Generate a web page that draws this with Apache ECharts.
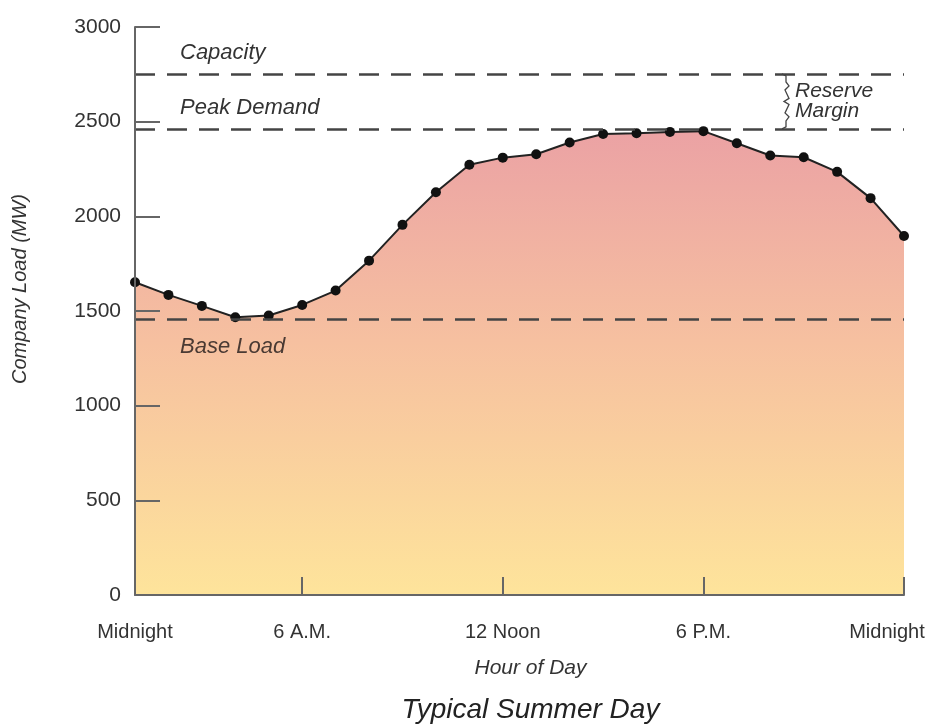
<!DOCTYPE html>
<html>
<head>
<meta charset="utf-8">
<script src="https://cdn.jsdelivr.net/npm/echarts@6/dist/echarts.min.js"></script>
<style>html,body{margin:0;padding:0;background:#fff}#main{width:938px;height:725px}</style>
</head>
<body>
<div id="main"></div>
<script>
// Hours of day (1..24) for hourly points
var hours = [1,2,3,4,5,6,7,8,9,10,11,12,13,14,15,16,17,18,19,20,21,22,23,24];
// Company load (MW)
var loadMW = [1652,1585,1527,1467,1476,1532,1608,1766,1955,2127,2272,2310,2328,2390,2435,2439,2446,2450,2386,2321,2312,2235,2096,1896];
// Tick label positions and text
var tickHours = [1,6,12,18,24];
var tickLabels = ['Midnight','6 A.M.','12 Noon','6 P.M.','Midnight'];
// Reference levels (MW)
var refNames = ['Capacity','Peak Demand','Base Load'];
var refValues = [2752,2462,1458];
var yTicks = [0,500,1000,1500,2000,2500,3000];

var FONT = '"Liberation Sans", Arial, sans-serif';
var chart = echarts.init(document.getElementById('main'));

var cats = hours.map(String);
var markData = refValues.map(function (v, i) {
  var below = refNames[i] === 'Base Load';
  return {
    yAxis: v,
    label: {
      show: true,
      formatter: refNames[i],
      position: below ? 'insideStartBottom' : 'insideStartTop',
      distance: [45, below ? 17 : 10],
      fontFamily: FONT, fontStyle: 'italic', fontSize: 22,
      color: below ? '#4a3a33' : '#333'
    }
  };
});

chart.setOption({
  animation: false,
  grid: {left: 135, right: 34, top: 27, bottom: 130},
  xAxis: {
    type: 'category',
    data: cats,
    boundaryGap: false,
    z: 5,
    axisLine: {lineStyle: {color: '#666', width: 2}},
    axisTick: {
      inside: true, length: 18, lineStyle: {color: '#666', width: 2},
      interval: function (idx) { return tickHours.indexOf(hours[idx]) >= 0; }
    },
    axisLabel: {
      interval: function (idx) { return tickHours.indexOf(hours[idx]) >= 0; },
      margin: 27,
      fontFamily: FONT, fontSize: 20, color: '#333',
      formatter: function (val, idx) {
        var k = tickHours.indexOf(hours[idx]);
        if (k < 0) return '';
        if (k === tickHours.length - 1) return '{last|' + tickLabels[k] + '}';
        return tickLabels[k];
      },
      rich: {last: {fontFamily: FONT, fontSize: 20, color: '#333', padding: [0, 34, 0, 0]}}
    },
    splitLine: {show: false}
  },
  yAxis: {
    type: 'value',
    min: yTicks[0], max: yTicks[yTicks.length - 1], interval: 500,
    z: 5,
    axisLine: {show: true, lineStyle: {color: '#666', width: 2}},
    axisTick: {show: true, inside: true, length: 25, lineStyle: {color: '#666', width: 2}},
    axisLabel: {margin: 14, fontFamily: FONT, fontSize: 21, color: '#333',
      formatter: function (v) { return String(v); }},
    splitLine: {show: false}
  },
  series: [{
    type: 'line',
    data: loadMW,
    symbol: 'circle',
    symbolSize: 10,
    itemStyle: {color: '#111'},
    lineStyle: {color: '#222', width: 2},
    areaStyle: {
      opacity: 1,
      color: new echarts.graphic.LinearGradient(0, 0, 0, 1, [
        {offset: 0, color: '#eba2a4'},
        {offset: 0.45, color: '#f6c0a0'},
        {offset: 1, color: '#fee49b'}
      ])
    },
    markLine: {
      silent: true,
      symbol: 'none',
      lineStyle: {type: [20, 12], color: '#444', width: 2.5},
      data: markData
    },
    z: 3
  }]
});

// Annotations positioned via the axes
var pTop = chart.convertToPixel({gridIndex: 0}, [cats[0], refValues[0]]);
var pPeak = chart.convertToPixel({gridIndex: 0}, [cats[0], refValues[1]]);
var gridLeft = chart.convertToPixel({gridIndex: 0}, [cats[0], 0]);
var gridRight = chart.convertToPixel({gridIndex: 0}, [cats[cats.length - 1], 0]);
var gridTop = chart.convertToPixel({gridIndex: 0}, [cats[0], 3000]);
var bx = 787, y1 = pTop[1], y2 = pPeak[1], ym = (y1 + y2) / 2;
var brace = [
  [bx - 5, y1], [bx - 1, y1 + 2], [bx - 1, y1 + 8], [bx + 2, y1 + 12], [bx - 2, y1 + 16],
  [bx + 2, ym - 3], [bx - 3, ym], [bx + 2, ym + 3], [bx - 2, y2 - 16], [bx + 2, y2 - 12],
  [bx - 1, y2 - 8], [bx - 1, y2 - 2], [bx - 5, y2]
];
var cx = (gridLeft[0] + gridRight[0]) / 2 + 11;
chart.setOption({
  graphic: [
    {type: 'polyline', shape: {points: brace}, style: {stroke: '#444', lineWidth: 1.3, fill: null}, z: 10},
    {type: 'text', x: bx + 8, y: ym - 10, style: {text: 'Reserve', font: 'italic 21px ' + FONT, fill: '#333', verticalAlign: 'middle'}},
    {type: 'text', x: bx + 8, y: ym + 10, style: {text: 'Margin', font: 'italic 21px ' + FONT, fill: '#333', verticalAlign: 'middle'}},
    {type: 'text', x: cx, y: 668, style: {text: 'Hour of Day', font: 'italic 21px ' + FONT, fill: '#333', align: 'center', verticalAlign: 'middle'}},
    {type: 'text', x: cx, y: 710, style: {text: 'Typical Summer Day', font: 'italic 28px ' + FONT, fill: '#222', align: 'center', verticalAlign: 'middle'}},
    {type: 'text', x: 20, y: (gridTop[1] + gridLeft[1]) / 2 - 22, rotation: Math.PI / 2,
      style: {text: 'Company Load (MW)', font: 'italic 20px ' + FONT, fill: '#333', align: 'center', verticalAlign: 'middle'}}
  ]
});
</script>
</body>
</html>
